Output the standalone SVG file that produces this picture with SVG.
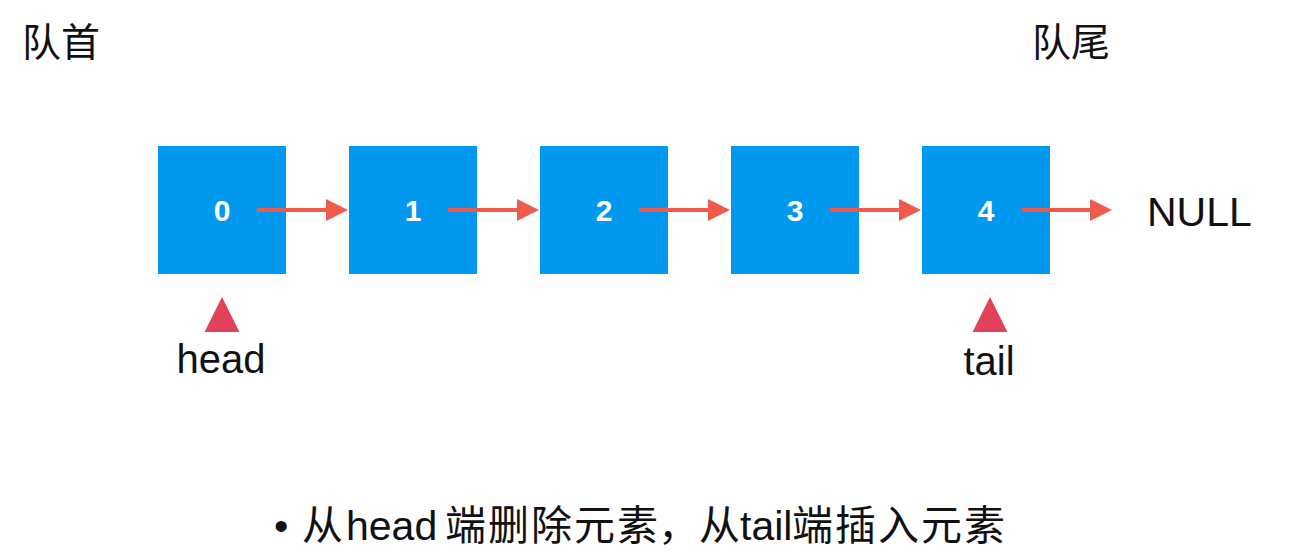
<svg xmlns="http://www.w3.org/2000/svg" width="1303" height="556" viewBox="0 0 1303 556">
<defs>
<style>
.box{fill:#0099EF;}
.num{font-family:"Liberation Sans",Arial,sans-serif;font-weight:bold;font-size:30px;fill:#ffffff;text-anchor:middle;}
.lbl{font-family:"Liberation Sans","Noto Sans CJK SC",sans-serif;fill:#111111;}
.cjk{font-family:"Noto Sans CJK SC",sans-serif;fill:#111111;}
.link{stroke:#F05A4C;stroke-width:4;fill:none;}
.head{fill:#F05A4C;}
.ptr{fill:#E2435A;}
</style>
</defs>
<rect width="1303" height="556" fill="#ffffff"/>
<text class="cjk" x="22" y="56" font-size="39">队首</text>
<text class="cjk" x="1032" y="56" font-size="39">队尾</text>
<g id="node0"><rect class="box" x="158" y="146" width="128" height="128"/><text class="num" x="222" y="221">0</text></g>
<g id="node1"><rect class="box" x="349" y="146" width="128" height="128"/><text class="num" x="413" y="221">1</text></g>
<g id="node2"><rect class="box" x="540" y="146" width="128" height="128"/><text class="num" x="604" y="221">2</text></g>
<g id="node3"><rect class="box" x="731" y="146" width="128" height="128"/><text class="num" x="795" y="221">3</text></g>
<g id="node4"><rect class="box" x="922" y="146" width="128" height="128"/><text class="num" x="986" y="221">4</text></g>
<g id="null"><text class="lbl" x="1147" y="226" font-size="41">NULL</text></g>
<g id="connectors">
<line class="link" x1="257" y1="210" x2="328" y2="210"/><polygon class="head" points="326,199 348,210 326,221"/>
<line class="link" x1="448" y1="210" x2="519" y2="210"/><polygon class="head" points="517,199 539,210 517,221"/>
<line class="link" x1="639" y1="210" x2="710" y2="210"/><polygon class="head" points="708,199 730,210 708,221"/>
<line class="link" x1="830" y1="210" x2="901" y2="210"/><polygon class="head" points="899,199 921,210 899,221"/>
<line class="link" x1="1022" y1="210" x2="1092" y2="210"/><polygon class="head" points="1090,199 1112,210 1090,221"/>
</g>
<g id="headptr"><polygon class="ptr" points="222,297 239.5,332 204.5,332"/><text class="lbl" x="221" y="373" font-size="40" text-anchor="middle">head</text></g>
<g id="tailptr"><polygon class="ptr" points="990,297 1007.5,332 972.5,332"/><text class="lbl" x="989" y="375" font-size="40" text-anchor="middle">tail</text></g>
<text class="lbl" y="540" font-size="41"><tspan x="274">•</tspan><tspan x="302">从</tspan><tspan x="346">head</tspan><tspan x="445" letter-spacing="2">端删除元素</tspan><tspan x="658">，</tspan><tspan x="699">从</tspan><tspan x="740">tail</tspan><tspan x="792" letter-spacing="2">端插入元素</tspan></text>
</svg>
